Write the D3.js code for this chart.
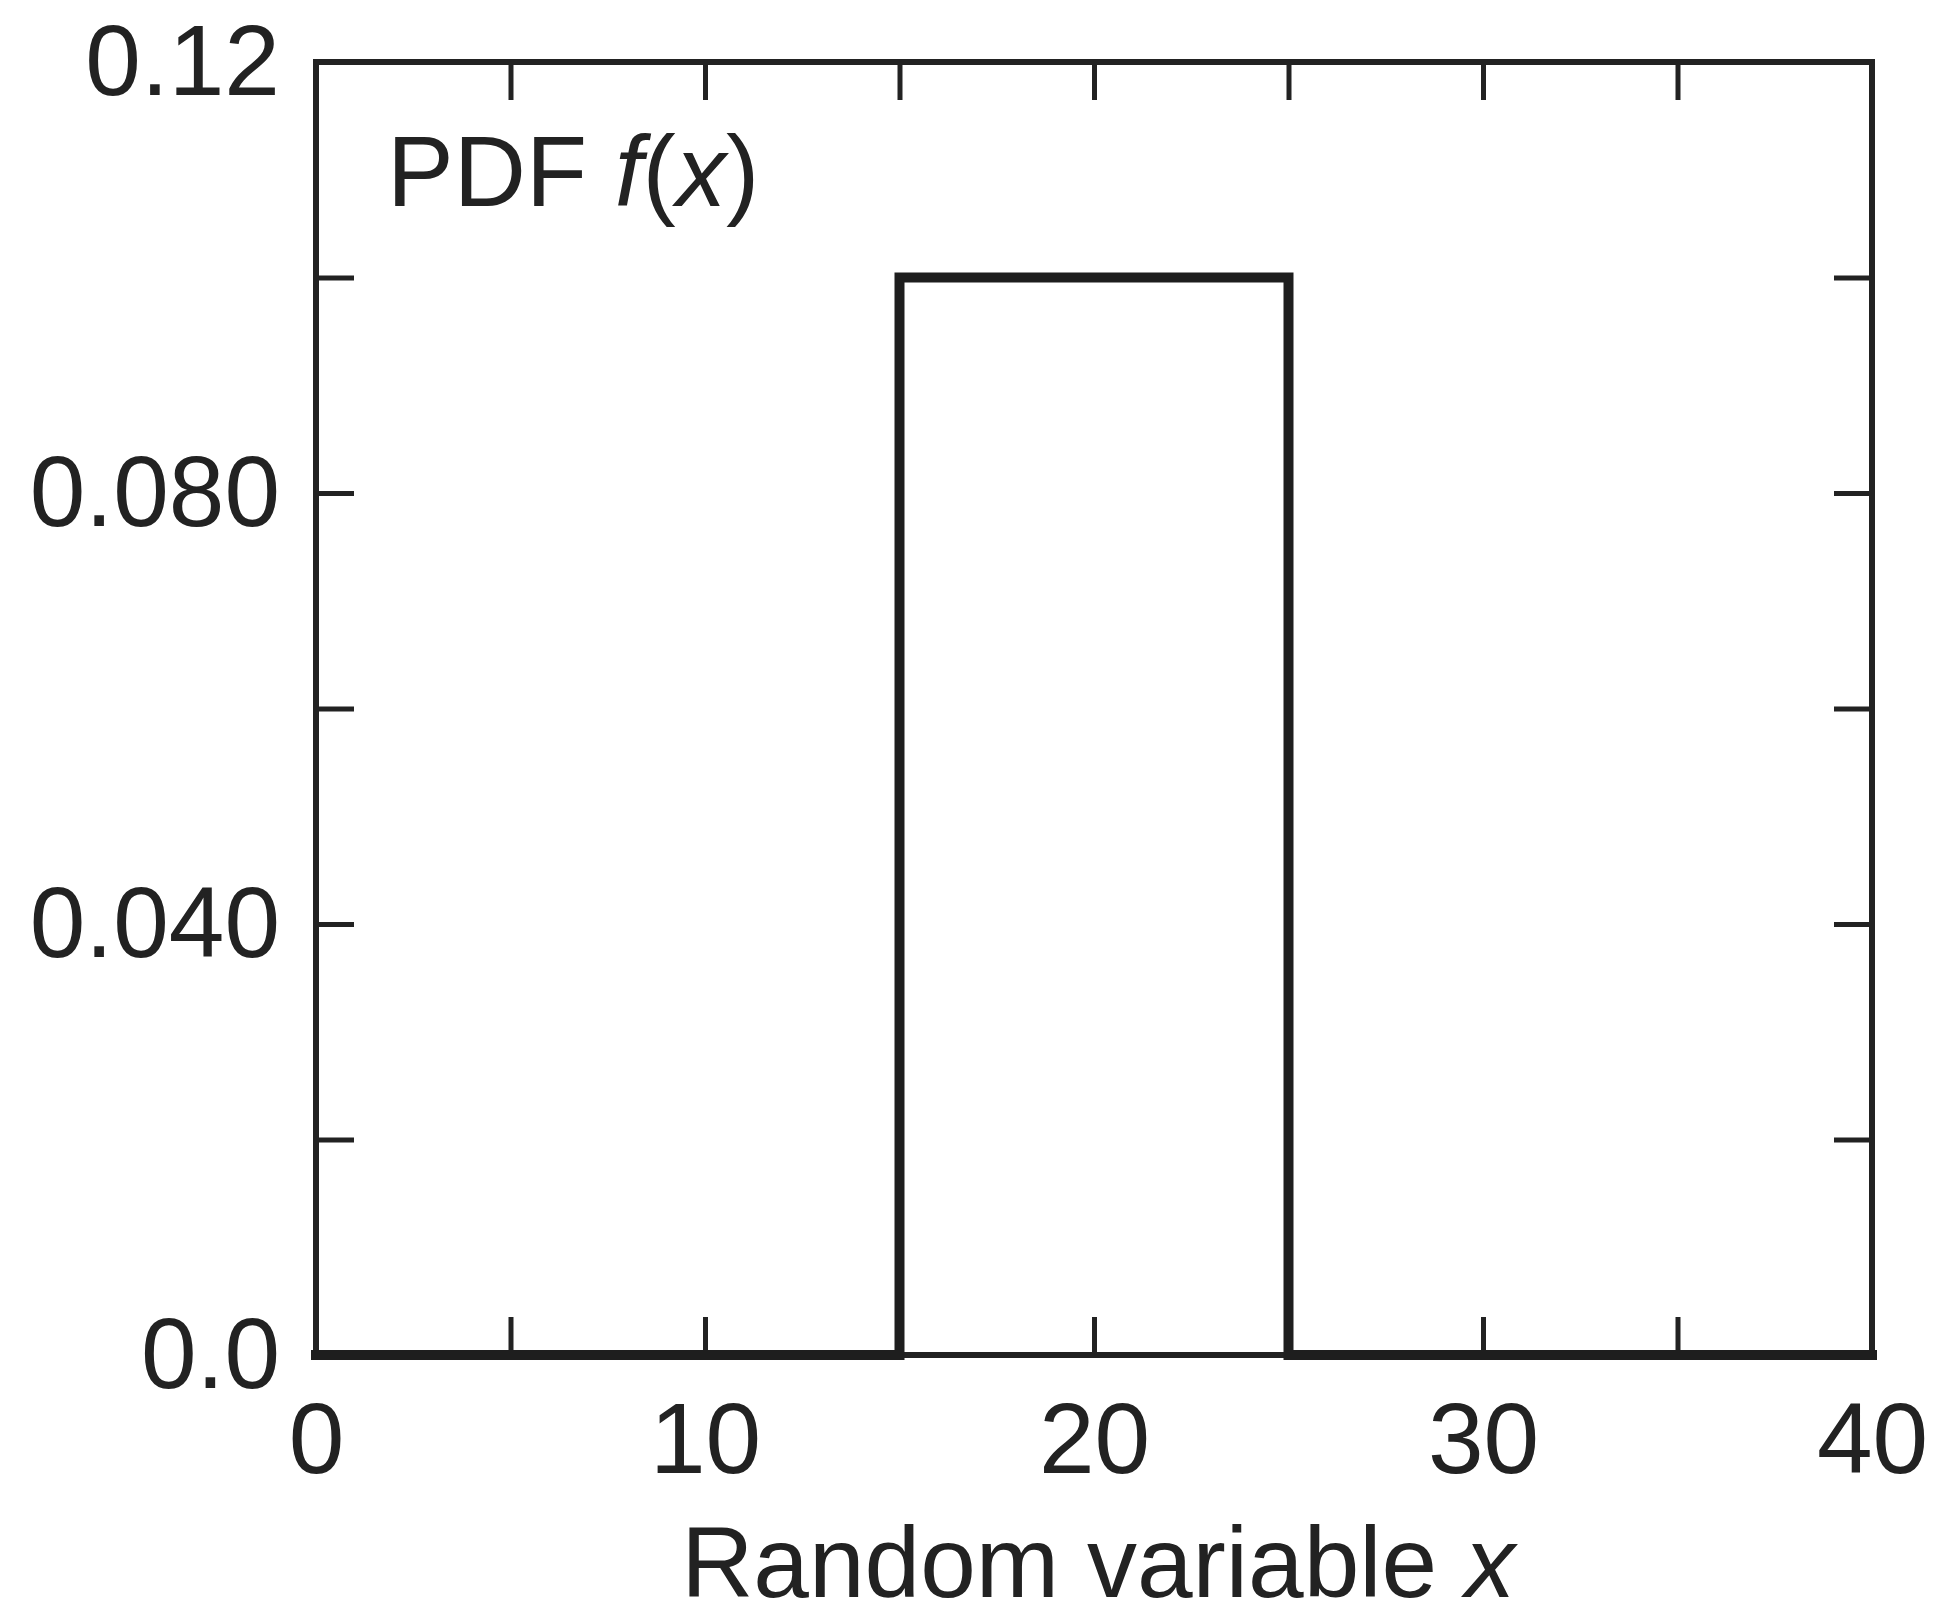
<!DOCTYPE html>
<html>
<head>
<meta charset="utf-8">
<script src="https://cdn.jsdelivr.net/npm/d3@7"></script>
<style>
  html, body { margin: 0; padding: 0; background: #fff; }
  svg { display: block; }
  text { font-family: "Liberation Sans", Arial, Helvetica, sans-serif; fill: #222; }
</style>
</head>
<body>
<svg id="chart" width="1937" height="1605"></svg>
<script>
// ---- data ----
const xPoints = [0, 15, 15, 25, 25, 40];
const pdfValues = [0, 0, 0.1, 0.1, 0, 0];
const xTicks = [0, 5, 10, 15, 20, 25, 30, 35, 40];
const xTickLabels = ["0", "", "10", "", "20", "", "30", "", "40"];
const yTicks = [0, 0.02, 0.04, 0.06, 0.08, 0.10, 0.12];
const yTickLabels = ["0.0", "", "0.040", "", "0.080", "", "0.12"];
const xTitle = "Random variable ";
const xTitleItalic = "x";
const yTitle = "PDF ";

// ---- layout ----
const W = 1937, H = 1605;
const m = { left: 316, right: W - 1872, top: 62, bottom: H - 1355 };
const iw = W - m.left - m.right, ih = H - m.top - m.bottom;
const ink = "#222";

const svg = d3.select("#chart");
const g = svg.append("g").attr("transform", `translate(${m.left},${m.top})`);

const x = d3.scaleLinear().domain([0, 40]).range([0, iw]);
const y = d3.scaleLinear().domain([0, 0.12]).range([ih, 0]);

const TL = 38;
function styleAxis(sel) {
  sel.select(".domain").remove();
  sel.selectAll(".tick line").attr("stroke", ink).attr("stroke-width", 5);
  sel.selectAll(".tick text").attr("font-size", 100).attr("fill", ink)
     .attr("font-family", "'Liberation Sans', Arial, sans-serif");
}

// bottom axis
g.append("g").attr("transform", `translate(0,${ih})`)
  .call(d3.axisBottom(x).tickValues(xTicks).tickSize(-TL).tickPadding(47)
        .tickFormat((d, i) => xTickLabels[i]))
  .call(styleAxis);
// top axis (ticks only)
g.append("g")
  .call(d3.axisTop(x).tickValues(xTicks).tickSize(-TL).tickFormat(""))
  .call(styleAxis);
// left axis
g.append("g")
  .call(d3.axisLeft(y).tickValues(yTicks).tickSize(-TL).tickPadding(36)
        .tickFormat((d, i) => yTickLabels[i]))
  .call(styleAxis);
// right axis
g.append("g").attr("transform", `translate(${iw},0)`)
  .call(d3.axisRight(y).tickValues(yTicks).tickSize(-TL).tickFormat(""))
  .call(styleAxis);

// frame
g.append("rect").attr("x", 0).attr("y", 0).attr("width", iw).attr("height", ih)
  .attr("fill", "none").attr("stroke", ink).attr("stroke-width", 6);

// PDF line
const line = d3.line().x(d => x(d[0])).y(d => y(d[1]));
g.append("path")
  .datum(xPoints.map((v, i) => [v, pdfValues[i]]))
  .attr("d", line)
  .attr("fill", "none").attr("stroke", "#1e1e1e").attr("stroke-width", 10)
  .attr("stroke-linejoin", "miter").attr("stroke-linecap", "square");

// in-plot label "PDF f(x)"
const lab = svg.append("text").attr("x", 387).attr("y", 206).attr("font-size", 100);
lab.append("tspan").text(yTitle);
lab.append("tspan").attr("font-style", "italic").text("f");
lab.append("tspan").text("(");
lab.append("tspan").attr("font-style", "italic").text("x");
lab.append("tspan").text(")");

// x axis title
const xt = svg.append("text").attr("x", m.left + iw / 2 + 4).attr("y", 1597)
  .attr("text-anchor", "middle").attr("font-size", 100);
xt.append("tspan").text(xTitle);
xt.append("tspan").attr("font-style", "italic").text(xTitleItalic);
</script>
</body>
</html>
